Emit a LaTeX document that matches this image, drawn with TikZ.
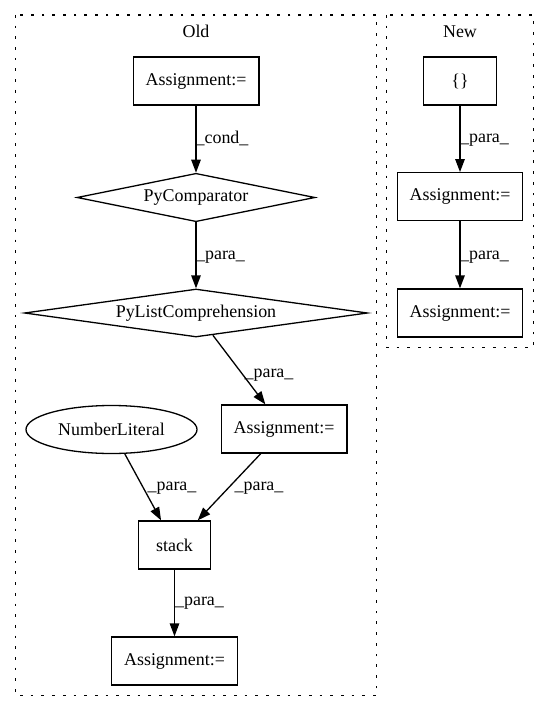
\documentclass[tikz,border=0pt]{standalone}
\usepackage{fontspec}
\setmainfont{Liberation Serif}
\usetikzlibrary{shapes.geometric,arrows.meta}
\begin{document}
\begin{tikzpicture}[x=1bp,y=-1bp,
  every node/.style={font=\fontsize{18}{20}\selectfont},
  box/.style={draw, line width=1.3bp, rectangle, minimum height=48bp, inner sep=0pt},
  dia/.style={draw, line width=1.3bp, diamond, inner sep=0pt},
  ell/.style={draw, line width=1.3bp, ellipse, inner sep=0pt},
  edge/.style={draw, line width=1.3bp, -{Triangle[length=13bp,width=9.5bp]}},
  lab/.style={inner sep=0pt},
  cluster/.style={draw, line width=1.3bp, dash pattern=on 2.7bp off 8bp}]
\useasboundingbox (0,0) rectangle (549,712);
% clusters
\draw[cluster] (15.7,15) rectangle (376.7,695.5);
\draw[cluster] (386.7,15) rectangle (533.3,347.5);
\node[lab] (oldlab) at (196,31.5) {Old};
\node[lab] (newlab) at (460,31.5) {New};
% Old nodes
\node[box, minimum width=125.7bp] (a1) at (196,81) {Assignment:=};
\node[dia, aspect=4.9, minimum width=238bp, minimum height=48.4bp] (pc) at (196,197.5) {PyComparator};
\node[dia, aspect=7.1, minimum width=343bp, minimum height=48bp] (plc) at (196,313) {PyListComprehension};
\node[box, minimum width=125.7bp] (a2) at (284,429) {Assignment:=};
\node[ell, minimum width=171bp, minimum height=48bp] (nl) at (111.5,429.5) {NumberLiteral};
\node[box, minimum width=72.4bp] (st) at (174.5,545) {stack};
\node[box, minimum width=125.6bp] (a3) at (174.5,661) {Assignment:=};
% New nodes
\node[box, minimum width=72.7bp] (br) at (460,81) {\{\}};
\node[box, minimum width=125.4bp] (n1) at (460,196.7) {Assignment:=};
\node[box, minimum width=125.4bp] (n2) at (460,313) {Assignment:=};
% edges
\draw[edge] (a1) -- (pc);
\draw[edge] (pc) -- (plc);
\draw[edge] (plc) -- (a2);
\draw[edge] (nl) -- (st);
\draw[edge] (a2) -- (st);
\draw[edge] (st) -- (a3);
\draw[edge] (br) -- (n1);
\draw[edge] (n1) -- (n2);
% edge labels
\node[lab] (l1) at (222,138) {\_cond\_};
\node[lab] (l2) at (220.5,256.7) {\_para\_};
\node[lab] (l3) at (269,375) {\_para\_};
\node[lab] (l4) at (172,488) {\_para\_};
\node[lab] (l5) at (259,488) {\_para\_};
\node[lab] (l6) at (199.5,603) {\_para\_};
\node[lab] (l7) at (484.5,140) {\_para\_};
\node[lab] (l8) at (484.5,256.7) {\_para\_};
\end{tikzpicture}
\end{document}
